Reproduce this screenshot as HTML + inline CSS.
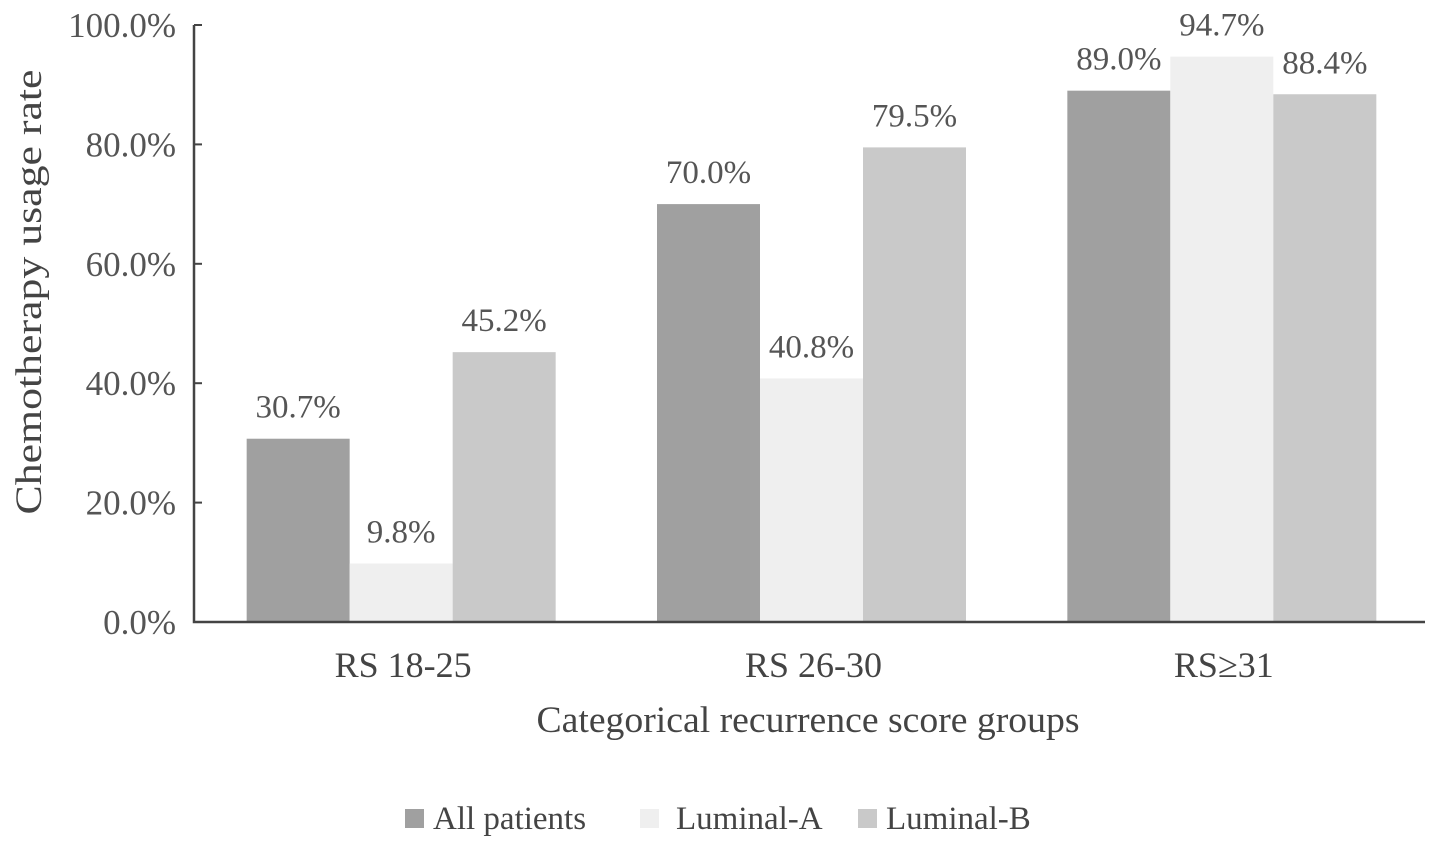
<!DOCTYPE html>
<html><head><meta charset="utf-8"><style>
html,body{margin:0;padding:0;background:#fff;}
svg{display:block;font-family:"Liberation Serif",serif;}
</style></head><body>
<svg id="chart" width="1441" height="847">
<g id="plot"></g>
</svg>
<script>
const categories=["RS 18-25","RS 26-30","RS\u226531"];
const seriesNames=["All patients","Luminal-A","Luminal-B"];
const allPatients=[30.7,70.0,89.0];
const luminalA=[9.8,40.8,94.7];
const luminalB=[45.2,79.5,88.4];
const yTicks=[0,20,40,60,80,100];
const series=[allPatients,luminalA,luminalB];
const colors=["#a0a0a0","#efefef","#c9c9c9"];
const NS="http://www.w3.org/2000/svg";
const g=document.getElementById('plot');
const x0=194,x1=1425,yBase=622,yTop=25;
function y(v){return yBase-(v/100)*(yBase-yTop);}
const gw=(x1-x0)/3,bw=103;
function bx(ci,si){return x0+gw*ci+gw/2-1.5*bw+si*bw+2;}
function mk(t,a){const e=document.createElementNS(NS,t);for(const k in a)e.setAttribute(k,a[k]);g.appendChild(e);return e;}
series.forEach((s,si)=>{s.forEach((v,ci)=>{
 const r=mk('rect',{x:bx(ci,si),y:y(v),width:bw,height:yBase-y(v),fill:colors[si]});
 
 
 const t=mk('text',{x:bx(ci,si)+bw/2,y:y(v)-21,'text-anchor':'middle','font-size':33,fill:'#555'});
 t.textContent=v.toFixed(1)+'%';
 
 
});});
const ax=mk('path',{d:`M${x0},${yTop}V${yBase}H${x1}`,stroke:'#444','stroke-width':2.5,fill:'none'});


yTicks.forEach(v=>{
 const tk=mk('line',{x1:x0,x2:x0+8,y1:y(v),y2:y(v),stroke:'#444','stroke-width':2});
 
 
 const t=mk('text',{x:176,y:y(v)+12,'text-anchor':'end','font-size':35,fill:'#555'});
 t.textContent=v.toFixed(1)+'%';
 
 
});
categories.forEach((c,ci)=>{
 const t=mk('text',{x:x0+gw*ci+gw/2+4,y:677,'text-anchor':'middle','font-size':36,fill:'#444'});
 t.textContent=c;
 
 
});
const xt=mk('text',{x:808,y:732,'text-anchor':'middle','font-size':37,fill:'#444',textLength:543,lengthAdjust:'spacingAndGlyphs'});
xt.textContent='Categorical recurrence score groups';


const yt=mk('text',{x:0,y:0,'text-anchor':'middle','font-size':37,fill:'#444',textLength:445,lengthAdjust:'spacingAndGlyphs',transform:'translate(41,292) rotate(-90)'});
yt.textContent='Chemotherapy usage rate';


const lx=[405,640,858];
const ltx=[433,676,886];
seriesNames.forEach((n,si)=>{
 const r=mk('rect',{x:lx[si],y:809,width:19,height:19,fill:colors[si]});
 
 
 const t=mk('text',{x:ltx[si],y:829,'font-size':33,fill:'#444'});
 t.textContent=n;
 
 
});
</script>
</body></html>
